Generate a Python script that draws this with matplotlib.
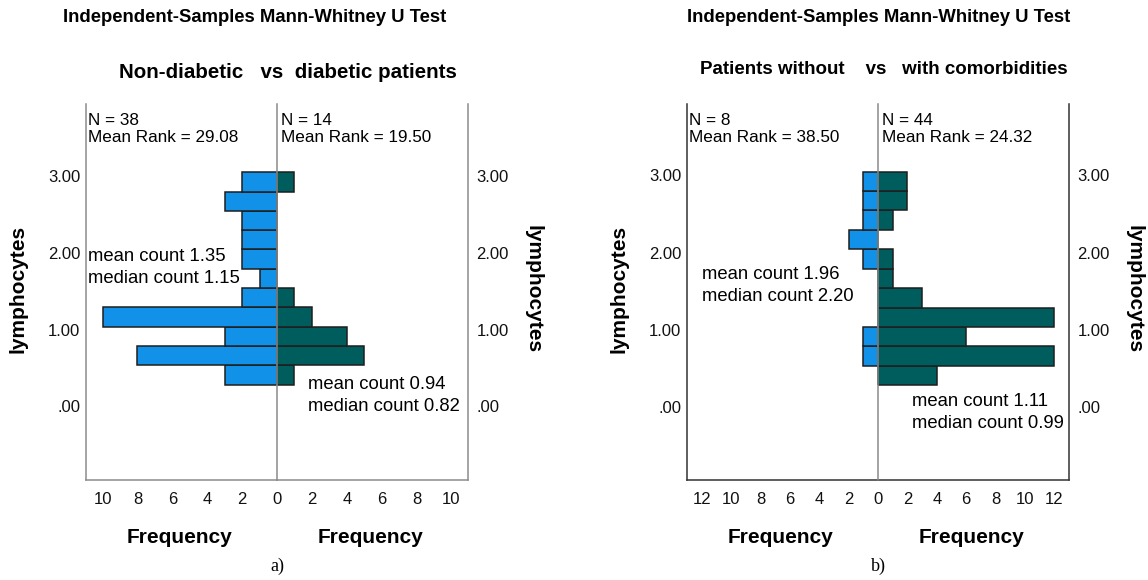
import matplotlib
matplotlib.use("Agg")
import matplotlib.pyplot as plt
import numpy as np

plt.rcParams['font.family'] = ['Liberation Sans', 'DejaVu Sans']

# histogram bins of lymphocytes (lower edges), bottom to top
bin_start = 0.285
bin_width = 0.251
n_bins = 11

# panel a) non-diabetic vs diabetic, counts bottom to top
a_left = [3, 8, 3, 10, 2, 1, 2, 2, 2, 3, 2]
a_right = [1, 5, 4, 2, 1, 0, 0, 0, 0, 0, 1]
# panel b) without vs with comorbidities
b_left = [0, 1, 1, 0, 0, 0, 1, 2, 1, 1, 1]
b_right = [4, 12, 6, 12, 3, 1, 1, 0, 1, 2, 2]

ytick_vals = [0, 1, 2, 3]
ytick_labels = ['.00', '1.00', '2.00', '3.00']

BLUE = '#1192e8'
TEAL = '#005d5d'
EDGE = '#1e1e1e'


def draw_panel(x0, xmax, ylim, lc, rc, left_info, right_info, left_stats, right_stats,
               left_pos, right_pos, frame_col, xticks_max):
    w = 191 / 1148
    b = 100 / 580
    h = 376 / 580
    axL = fig.add_axes([x0, b, w, h])
    axR = fig.add_axes([x0 + w, b, w, h], sharey=axL)
    edges = bin_start + bin_width * np.arange(n_bins)
    axL.barh(edges, lc, height=bin_width, align='edge', color=BLUE, edgecolor=EDGE, linewidth=1.1)
    axR.barh(edges, rc, height=bin_width, align='edge', color=TEAL, edgecolor=EDGE, linewidth=1.1)
    axL.set_xlim(xmax, 0)
    axR.set_xlim(0, xmax)
    axL.set_ylim(*ylim)

    for ax in (axL, axR):
        ax.spines['top'].set_visible(False)
        for s in ax.spines.values():
            s.set_linewidth(1.1)
            s.set_color(frame_col)
        ax.tick_params(length=0, labelsize=12, colors='#111111')
        ax.tick_params(axis='x', pad=9)
    axL.spines['right'].set_visible(False)
    axR.spines['left'].set_color('#8a8a8a')
    axR.spines['left'].set_zorder(5)

    axL.set_xticks(list(range(xticks_max, -1, -2)))
    axR.set_xticks(list(range(2, xticks_max + 1, 2)))
    axL.set_yticks(ytick_vals)
    axL.set_yticklabels(ytick_labels)
    axL.tick_params(axis='y', pad=4)
    axR.tick_params(axis='y', labelleft=False, labelright=True, pad=6)

    axL.set_ylabel('lymphocytes', fontsize=15, fontweight='bold', va='center')
    axL.yaxis.set_label_coords(-0.355, 0.507)
    axR.yaxis.set_label_position('right')
    axR.set_ylabel('lymphocytes', fontsize=15, fontweight='bold', rotation=-90, va='center')
    axR.yaxis.set_label_coords(1.342, 0.507)
    for ax in (axL, axR):
        ax.set_xlabel('Frequency', fontsize=15, fontweight='bold', va='center')
        ax.xaxis.set_label_coords(0.49, -0.152)

    axL.text(0.012, 0.975, left_info, transform=axL.transAxes, ha='left', va='top',
             fontsize=12.3, linespacing=1.1)
    axR.text(0.02, 0.975, right_info, transform=axR.transAxes, ha='left', va='top',
             fontsize=12.3, linespacing=1.1)
    axL.text(left_pos[0], left_pos[1], left_stats, ha='left', va='top', fontsize=13.3, linespacing=1.38)
    axR.text(right_pos[0], right_pos[1], right_stats, ha='left', va='top', fontsize=13.3, linespacing=1.38)


fig = plt.figure(figsize=(11.48, 5.8), dpi=100)

draw_panel(86 / 1148, 10.95, (-0.956, 3.934), a_left, a_right,
           'N = 38\nMean Rank = 29.08', 'N = 14\nMean Rank = 19.50',
           'mean count 1.35\nmedian count 1.15', 'mean count 0.94\nmedian count 0.82',
           (10.85, 2.06), (1.75, 0.40), '#8c8c8c', 10)

draw_panel(687 / 1148, 13.0, (-0.94, 3.92), b_left, b_right,
           'N = 8\nMean Rank = 38.50', 'N = 44\nMean Rank = 24.32',
           'mean count 1.96\nmedian count 2.20', 'mean count 1.11\nmedian count 0.99',
           (12.0, 1.82), (2.3, 0.18), '#333333', 12)

fig.text(255 / 1148, 1 - 18 / 580, 'Independent-Samples Mann-Whitney U Test',
         ha='center', va='center', fontsize=13.3, fontweight='bold')
fig.text(879 / 1148, 1 - 18 / 580, 'Independent-Samples Mann-Whitney U Test',
         ha='center', va='center', fontsize=13.3, fontweight='bold')
fig.text(288 / 1148, 1 - 72 / 580, 'Non-diabetic   vs  diabetic patients',
         ha='center', va='center', fontsize=14.8, fontweight='bold')
fig.text(884 / 1148, 1 - 70 / 580, 'Patients without    vs   with comorbidities',
         ha='center', va='center', fontsize=13.5, fontweight='bold')
fig.text(277 / 1148, 1 - 566 / 580, 'a)', ha='center', va='center', fontsize=13,
         family=['Liberation Serif', 'DejaVu Serif'])
fig.text(878 / 1148, 1 - 566 / 580, 'b)', ha='center', va='center', fontsize=13,
         family=['Liberation Serif', 'DejaVu Serif'])

fig.savefig('out.png', dpi=100)
